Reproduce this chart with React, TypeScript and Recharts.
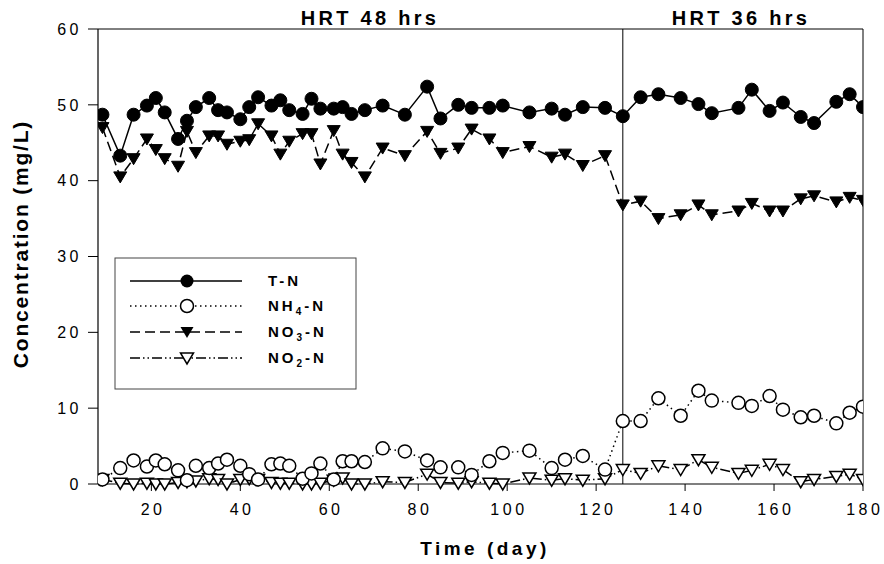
import React from 'react';
import { LineChart, Line, XAxis, YAxis, ReferenceLine, Customized } from 'recharts';

const days = [9,13,16,19,21,23,26,28,30,33,35,37,40,42,44,47,49,51,54,56,58,61,63,65,68,72,77,82,85,89,92,96,99,105,110,113,117,122,126,130,134,139,143,146,152,155,159,162,166,169,174,177,180];

const tn = [48.7,43.3,48.7,49.9,50.9,49.0,45.5,47.9,49.7,50.9,49.3,49.0,48.1,49.7,51.0,49.9,50.6,49.3,48.8,50.8,49.5,49.5,49.7,48.8,49.3,49.9,48.7,52.4,48.2,50.0,49.6,49.6,49.9,49.0,49.5,48.7,49.7,49.6,48.5,51.0,51.4,50.9,50.1,48.9,49.6,52.0,49.2,50.3,48.4,47.6,50.4,51.4,49.7];

const nh4 = [0.6,2.1,3.1,2.3,3.1,2.6,1.8,0.5,2.4,2.1,2.7,3.2,2.4,1.3,0.6,2.6,2.7,2.4,0.7,1.4,2.7,0.6,3.0,3.0,2.9,4.7,4.3,3.1,2.2,2.2,1.2,3.0,4.1,4.4,2.1,3.2,3.7,1.9,8.3,8.3,11.3,9.0,12.3,11.0,10.7,10.3,11.6,9.8,8.8,9.0,8.0,9.4,10.2];

const no3 = [47.0,40.5,42.9,45.5,44.1,42.9,41.9,46.5,43.7,45.9,45.9,44.8,45.2,45.4,47.5,45.9,43.5,45.2,46.2,46.2,42.2,46.6,43.5,42.4,40.5,44.3,43.3,46.5,43.6,44.3,46.8,45.5,43.7,44.5,43.1,43.5,42.0,43.3,36.8,37.3,35.0,35.5,36.8,35.5,36.0,37.0,36.0,36.0,37.6,38.0,37.2,37.8,37.4];

const no2 = [0.6,0.1,0,0.1,0,0,0.2,0.3,0.4,0.7,0.6,0,0.6,0.7,0.6,0.2,0.1,0.1,0,0,0.1,0.5,0.8,0,0,0.3,0.2,1.3,0.2,0.1,0.3,0.1,0,0.8,0.5,0.7,0.5,0.7,1.9,1.4,2.4,1.9,3.2,2.2,1.4,1.8,2.6,1.9,0.3,0.6,1.0,1.3,0.6];

const xTicks = [20,40,60,80,100,120,140,160,180];
const yTicks = [0,10,20,30,40,50,60];
const seriesNames = ['T-N', 'NH4-N', 'NO3-N', 'NO2-N'];
const periodLabels = ['HRT 48 hrs', 'HRT 36 hrs'];

const data = days.map((d, i) => ({ day: d, tn: tn[i], nh4: nh4[i], no3: no3[i], no2: no2[i] }));

const FONT = 'Arial, "Liberation Sans", sans-serif';
const R = 6.5;

const triPts = (x: number, y: number) => `${x - 6.5},${y - 5} ${x + 6.5},${y - 5} ${x},${y + 6}`;

const dotFilledCircle = (p: any) => <circle key={`a${p.index}`} cx={p.cx} cy={p.cy} r={R} fill="#000" stroke="#000" strokeWidth={1} />;
const dotOpenCircle = (p: any) => <circle key={`b${p.index}`} cx={p.cx} cy={p.cy} r={R} fill="#fff" stroke="#000" strokeWidth={1.5} />;
const dotFilledTri = (p: any) => <polygon key={`c${p.index}`} points={triPts(p.cx, p.cy)} fill="#000" stroke="#000" strokeWidth={1} />;
const dotOpenTri = (p: any) => <polygon key={`d${p.index}`} points={triPts(p.cx, p.cy)} fill="#fff" stroke="#000" strokeWidth={1.5} />;

const DASH_NH4 = '1.5 3.5';
const DASH_NO3 = '10 5';
const DASH_NO2 = '10 3 1.5 3 1.5 3';

const Sub = ({ base, sub, tail }: { base: string; sub: string; tail: string }) => (
  <>
    {base}
    <tspan fontSize={10} dy={4}>{sub}</tspan>
    <tspan dy={-4}>{tail}</tspan>
  </>
);

const Overlay = () => {
  const rows = [281, 306, 332, 358];
  const lx1 = 130, lx2 = 242, mx = 187, tx = 268;
  const textProps = { fontFamily: FONT, fontWeight: 700, fontSize: 15, letterSpacing: 3, fill: '#000' } as any;
  return (
    <g>
      <text x={370} y={25} textAnchor="middle" fontFamily={FONT} fontWeight={700} fontSize={20} letterSpacing={3.3}>{periodLabels[0]}</text>
      <text x={741} y={25} textAnchor="middle" fontFamily={FONT} fontWeight={700} fontSize={20} letterSpacing={3.3}>{periodLabels[1]}</text>
      <text transform="translate(28,244) rotate(-90)" textAnchor="middle" fontFamily={FONT} fontWeight={700} fontSize={21} letterSpacing={1.8}>Concentration (mg/L)</text>
      <text x={485} y={555} textAnchor="middle" fontFamily={FONT} fontWeight={700} fontSize={19} letterSpacing={3.5}>Time (day)</text>
      <rect x={115} y={258} width={241} height={131} fill="#fff" stroke="#444" strokeWidth={1} />
      <line x1={lx1} x2={lx2} y1={rows[0]} y2={rows[0]} stroke="#000" strokeWidth={1.5} />
      <circle cx={mx} cy={rows[0]} r={R} fill="#000" />
      <text x={tx} y={rows[0] + 5} {...textProps}>{seriesNames[0]}</text>
      <line x1={lx1} x2={lx2} y1={rows[1]} y2={rows[1]} stroke="#000" strokeWidth={1.5} strokeDasharray={DASH_NH4} />
      <circle cx={mx} cy={rows[1]} r={R} fill="#fff" stroke="#000" strokeWidth={1.5} />
      <text x={tx} y={rows[1] + 5} {...textProps}><Sub base="NH" sub="4" tail="-N" /></text>
      <line x1={lx1} x2={lx2} y1={rows[2]} y2={rows[2]} stroke="#000" strokeWidth={1.5} strokeDasharray={DASH_NO3} />
      <polygon points={triPts(mx, rows[2])} fill="#000" />
      <text x={tx} y={rows[2] + 5} {...textProps}><Sub base="NO" sub="3" tail="-N" /></text>
      <line x1={lx1} x2={lx2} y1={rows[3]} y2={rows[3]} stroke="#000" strokeWidth={1.5} strokeDasharray={DASH_NO2} />
      <polygon points={triPts(mx, rows[3])} fill="#fff" stroke="#000" strokeWidth={1.5} />
      <text x={tx} y={rows[3] + 5} {...textProps}><Sub base="NO" sub="2" tail="-N" /></text>
    </g>
  );
};

export default function App() {
  const tick = { fontFamily: FONT, fontSize: 16, fill: '#000', letterSpacing: 3.5 } as any;
  return (
    <div style={{ position: 'absolute', left: 0, top: 0, width: 884, height: 564, background: '#fff' }}>
      <LineChart width={884} height={564} data={data} margin={{ top: 29, right: 21, bottom: 0, left: 0 }}>
        <XAxis dataKey="day" type="number" domain={[8, 180]} ticks={xTicks} allowDataOverflow
          height={80} tick={{ ...tick, dx: 1.75 }} tickSize={7} tickMargin={13} stroke="#000" axisLine={{ stroke: '#000', strokeWidth: 1.2 }} tickLine={{ stroke: '#000' }} />
        <YAxis type="number" domain={[0, 60]} ticks={yTicks} width={98} tick={tick} tickSize={10} tickMargin={6}
          stroke="#000" axisLine={{ stroke: '#000', strokeWidth: 1.2 }} tickLine={{ stroke: '#000' }} />
        <ReferenceLine y={60} stroke="#000" strokeWidth={1} />
        <ReferenceLine x={180} stroke="#000" strokeWidth={1} />
        <ReferenceLine x={126} stroke="#000" strokeWidth={1} />
        <Line dataKey="no2" stroke="#000" strokeWidth={1.5} strokeDasharray={DASH_NO2} dot={dotOpenTri} isAnimationActive={false} />
        <Line dataKey="nh4" stroke="#000" strokeWidth={1.5} strokeDasharray={DASH_NH4} dot={dotOpenCircle} isAnimationActive={false} />
        <Line dataKey="no3" stroke="#000" strokeWidth={1.5} strokeDasharray={DASH_NO3} dot={dotFilledTri} isAnimationActive={false} />
        <Line dataKey="tn" stroke="#000" strokeWidth={1.5} dot={dotFilledCircle} isAnimationActive={false} />
        <Customized component={Overlay} />
      </LineChart>
    </div>
  );
}
